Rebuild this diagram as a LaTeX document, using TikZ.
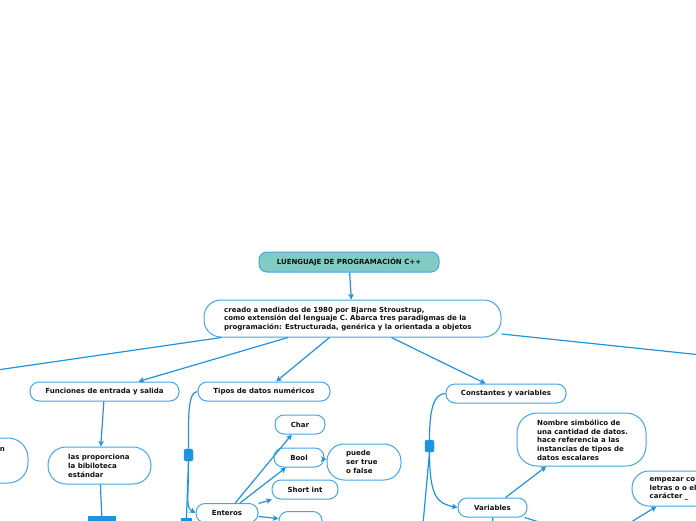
\documentclass[tikz,border=0pt]{standalone}
\usepackage{fontspec}
\newfontfamily\dv{DejaVu Sans}
\usetikzlibrary{arrows.meta,calc}
\definecolor{lnblue}{HTML}{1E94E0}
\definecolor{bdblue}{HTML}{45A5E8}
\definecolor{titlefill}{HTML}{80CCC5}
\definecolor{txtcol}{HTML}{101010}
\begin{document}
\begin{tikzpicture}[x=1pt,y=-1pt,
 txt/.style={font=\dv\bfseries\fontsize{7}{8.7}\selectfont, text=txtcol},
 box/.style={draw=bdblue, line width=1pt, fill=white, rounded corners=9pt, inner sep=0pt, txt},
 ltxt/.style={txt, anchor=west, align=left, inner sep=0pt},
 knob/.style={fill=lnblue, draw=lnblue, rounded corners=1.5pt, minimum width=9pt, minimum height=12pt, inner sep=0pt},
 marker/.style={fill=lnblue, inner sep=0pt},
 conn/.style={draw=lnblue, line width=1.2pt},
 arr/.style={conn, -{Stealth[length=5.5pt,width=5.5pt,inset=1.2pt]}}
 ]
\useasboundingbox (0,0) rectangle (696,520);
\begin{scope}
\clip (0,0) rectangle (696,520);
% nodes
\node[box, fill=titlefill, rounded corners=8pt, minimum width=180pt, minimum height=20pt] (title) at (349,262) {LUENGUAJE DE PROGRAMACIÓN C++};
\node[box, rounded corners=17pt, minimum width=297pt, minimum height=37pt] (main) at (352.5,318.5) {};
\node[ltxt] (mainT) at (224,319) {creado a mediados de 1980 por Bjarne Stroustrup,\\como extensión del lenguaje C. Abarca tres paradigmas de la\\programación: Estructurada, genérica y la orientada a objetos};
\node[box, minimum width=149pt, minimum height=19pt] (fun) at (104.5,391.5) {Funciones de entrada y salida};
\node[box, minimum width=132pt, minimum height=19pt] (tipos) at (264,391.5) {Tipos de datos numéricos};
\node[box, minimum width=120pt, minimum height=19pt] (const) at (506,393.5) {Constantes y variables};
\node[box, rounded corners=18pt, minimum width=103pt, minimum height=37pt] (prop) at (99.5,465.5) {};
\node[ltxt] (propT) at (68,466) {las proporciona\\la bibiloteca\\estándar};
\node[box, rounded corners=20pt, minimum width=108pt, minimum height=45pt] (leftb) at (-26,460.5) {};
\node[txt, anchor=east, inner sep=0pt] (leftT) at (5,449.5) {n};
\node[box, minimum width=50pt, minimum height=19pt] (char) at (300,424.5) {Char};
\node[box, minimum width=50pt, minimum height=19pt] (bool) at (299,457.5) {Bool};
\node[box, rounded corners=17pt, minimum width=74pt, minimum height=36pt] (puede) at (364,462) {};
\node[ltxt] (puedeT) at (346,462) {puede\\ser true\\o false};
\node[box, minimum width=66pt, minimum height=19pt] (short) at (305,489.5) {Short int};
\node[box, minimum width=62pt, minimum height=19pt] (enteros) at (227,513) {Enteros};
\node[box, minimum width=43pt, minimum height=19pt] (intb) at (300.5,521) {};
\node[box, minimum width=69pt, minimum height=19pt] (vars) at (492.5,507.5) {Variables};
\node[box, rounded corners=20pt, minimum width=129pt, minimum height=53pt] (nombre) at (581.5,439.5) {};
\node[ltxt] (nombreT) at (537,440) {Nombre simbólico de\\una cantidad de datos.\\hace referencia a las\\instancias de tipos de\\datos escalares};
\node[box, rounded corners=17pt, minimum width=108pt, minimum height=35pt] (emp) at (686,488.5) {};
\node[ltxt] (empT) at (649.5,489) {empezar co\\letras o o el\\carácter \_};
\node[knob] (sq1) at (188.5,455) {};
\node[knob] (sq2) at (429.5,446) {};
\node[marker, minimum width=28pt, minimum height=8pt] (mk1) at (102,520) {};
\node[marker, minimum width=11pt, minimum height=4pt] (mk2) at (186.5,520) {};
\coordinate (offL) at (-148,391);
\coordinate (offR) at (1044,391);
\coordinate (hid) at (600,541);
\coordinate (cbot) at (423,524);
\coordinate (vbot) at (493,530);
% connectors
\draw[arr] (title) -- (main);
\draw[conn] (main) -- (offL);
\draw[conn] (main) -- (offR);
\draw[arr] (main) -- (fun);
\draw[arr] (main) -- (tipos);
\draw[arr] (main) -- (const);
\draw[arr] (fun) -- (prop);
\draw[conn] (prop) -- (mk1);
\draw[conn] (tipos.west) .. controls +(-10,0) and +(0,-30) .. (sq1.north);
\draw[arr] (sq1.south) .. controls +(0,40) and +(-10,-6) .. (enteros.west);
\draw[conn] (sq1.south) -- (mk2.north);
\draw[arr] (enteros) -- (char);
\draw[arr] (enteros) -- (bool);
\draw[arr] (enteros) -- (short);
\draw[arr] (enteros) -- (intb);
\draw[arr] (bool) -- (puede);
\draw[conn] (const.west) .. controls +(-12,0) and +(0,-30) .. (sq2.north);
\draw[arr] (sq2.south) .. controls +(0,45) and +(-20,-4) .. (vars.west);
\draw[conn] (sq2.south) -- (cbot);
\draw[arr] (vars) -- (nombre);
\draw[arr] (vars) -- (hid);
\draw[conn] (vars) -- (vbot);
\draw[arr] (hid) -- (emp);
\end{scope}
\end{tikzpicture}
\end{document}
